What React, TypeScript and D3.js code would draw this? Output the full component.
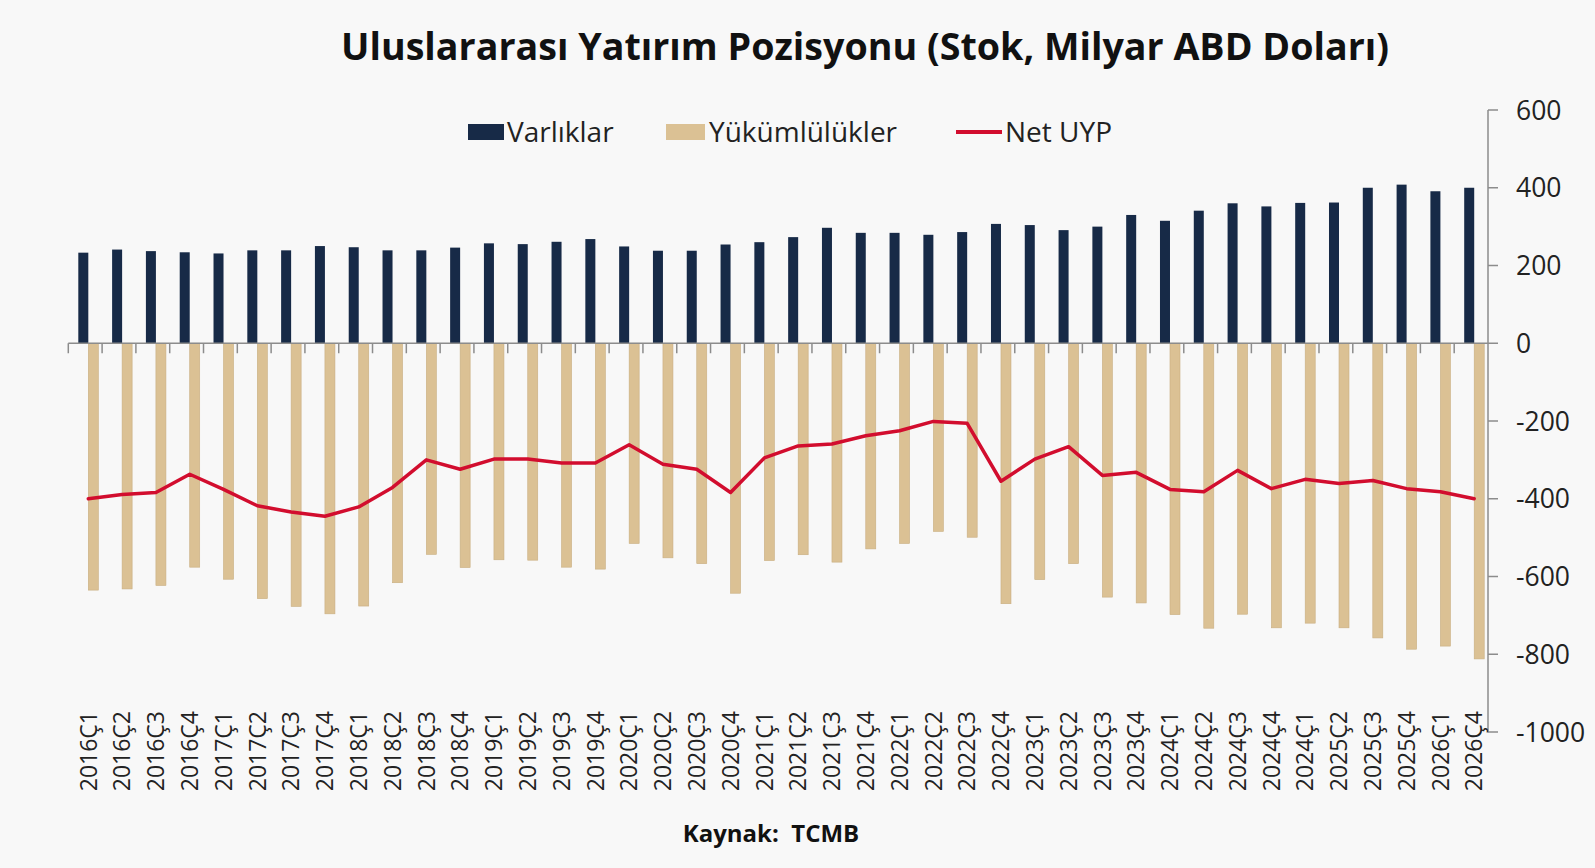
import React from "react";
import * as d3 from "d3";

const categories = [
  "2016Ç1","2016Ç2","2016Ç3","2016Ç4","2017Ç1","2017Ç2","2017Ç3","2017Ç4",
  "2018Ç1","2018Ç2","2018Ç3","2018Ç4","2019Ç1","2019Ç2","2019Ç3","2019Ç4",
  "2020Ç1","2020Ç2","2020Ç3","2020Ç4","2021Ç1","2021Ç2","2021Ç3","2021Ç4",
  "2022Ç1","2022Ç2","2022Ç3","2022Ç4","2023Ç1","2023Ç2","2023Ç3","2023Ç4",
  "2024Ç1","2024Ç2","2024Ç3","2024Ç4","2024Ç1 ","2025Ç2","2025Ç3","2025Ç4",
  "2026Ç1","2026Ç4",
];

const varliklar = [233,241,237,234,231,239,239,250,247,239,239,246,257,255,261,268,249,238,238,254,260,273,297,284,284,279,286,307,304,291,300,330,315,341,360,352,361,362,400,408,391,400];

const yukumlulukler = [-635,-632,-623,-576,-607,-657,-677,-696,-676,-616,-543,-577,-557,-558,-576,-581,-515,-552,-567,-643,-559,-544,-563,-529,-515,-484,-499,-670,-608,-567,-653,-668,-698,-733,-697,-732,-720,-732,-758,-787,-779,-812];

const netUYP = [-400,-389,-384,-337,-376,-418,-434,-445,-421,-371,-300,-324,-298,-298,-308,-308,-261,-311,-324,-384,-295,-264,-259,-238,-225,-201,-206,-355,-298,-266,-340,-332,-376,-382,-327,-374,-350,-361,-353,-374,-382,-400];

const yTicks = [600,400,200,0,-200,-400,-600,-800,-1000];

const W = 1595, H = 868;
const NAVY = "#172a47";
const TAN = "#dbc194";
const RED = "#d20d2e";
const AXIS = "#8c8c8c";
const FONT = "'Open Sans', 'Noto Sans', sans-serif";

export default function App() {
  const x = d3.scaleBand<string>().domain(categories).range([68.3, 1488]).padding(0);
  const y = d3.scaleLinear().domain([-1000, 600]).range([732, 110]);
  const bw = x.bandwidth();
  const barW = bw * 0.296;
  const off1 = bw * 0.296;
  const off2 = off1 + barW;
  const cx = (c: string) => (x(c) as number) + off2;

  const line = d3.line<number>()
    .x((_, i) => cx(categories[i]))
    .y((v) => y(v));

  const y0 = y(0);

  return (
    <div style={{ position: "fixed", left: 0, top: 0, width: W, height: H, background: "#f8f8f8" }}>
      <svg width={W} height={H} style={{ display: "block", fontFamily: FONT }}>
        <rect x={0} y={0} width={W} height={H} fill="#f8f8f8" />
        <text x={865} y={60} textAnchor="middle" fontSize={38} fontWeight={700} fill="#111"
          textLength={1048} lengthAdjust="spacingAndGlyphs">
          Uluslararası Yatırım Pozisyonu (Stok, Milyar ABD Doları)
        </text>

        {/* legend */}
        <rect x={468} y={124} width={36} height={16} fill={NAVY} />
        <text x={507} y={142} fontSize={28} fill="#222">Varlıklar</text>
        <rect x={666} y={124} width={39} height={16} fill={TAN} />
        <text x={709} y={142} fontSize={28} fill="#222">Yükümlülükler</text>
        <line x1={956} x2={1002} y1={132} y2={132} stroke={RED} strokeWidth={4} />
        <text x={1005} y={142} fontSize={28} fill="#222">Net UYP</text>

        {/* bars */}
        {categories.map((c, i) => (
          <rect key={"a" + i} x={(x(c) as number) + off1} width={barW}
            y={y(varliklar[i])} height={y0 - y(varliklar[i])} fill={NAVY} />
        ))}
        {categories.map((c, i) => (
          <rect key={"l" + i} x={(x(c) as number) + off2} width={barW}
            y={y0} height={y(yukumlulukler[i]) - y0} fill={TAN}
            stroke="#c9ae80" strokeWidth={0.6} />
        ))}

        {/* zero axis with category ticks */}
        <line x1={68.3} x2={1488} y1={y0} y2={y0} stroke={AXIS} strokeWidth={1.5} />
        {categories.map((c, i) => (
          <line key={"t" + i} x1={x(c) as number} x2={x(c) as number} y1={y0} y2={y0 + 10}
            stroke={AXIS} strokeWidth={1.5} />
        ))}

        {/* net line */}
        <path d={line(netUYP) || ""} fill="none" stroke={RED} strokeWidth={3.5}
          strokeLinejoin="round" strokeLinecap="round" />

        {/* right axis */}
        <line x1={1488} x2={1488} y1={y(600)} y2={y(-1000)} stroke={AXIS} strokeWidth={1.5} />
        {yTicks.map((t) => (
          <g key={"y" + t}>
            <line x1={1488} x2={1498} y1={y(t)} y2={y(t)} stroke={AXIS} strokeWidth={1.5} />
            <text x={1516} y={y(t)} dy="0.36em" fontSize={26.5} fill="#222">{t}</text>
          </g>
        ))}

        {/* x labels */}
        {categories.map((c, i) => (
          <text key={"x" + i} transform={`translate(${cx(c)},711) rotate(-90)`}
            textAnchor="end" dy="0.36em" fontSize={23} fill="#222">{c.trim()}</text>
        ))}

        <text x={771} y={842} textAnchor="middle" fontSize={24} fontWeight={700} fill="#111"
          style={{ whiteSpace: "pre" }}>{"Kaynak:  TCMB"}</text>
      </svg>
    </div>
  );
}
